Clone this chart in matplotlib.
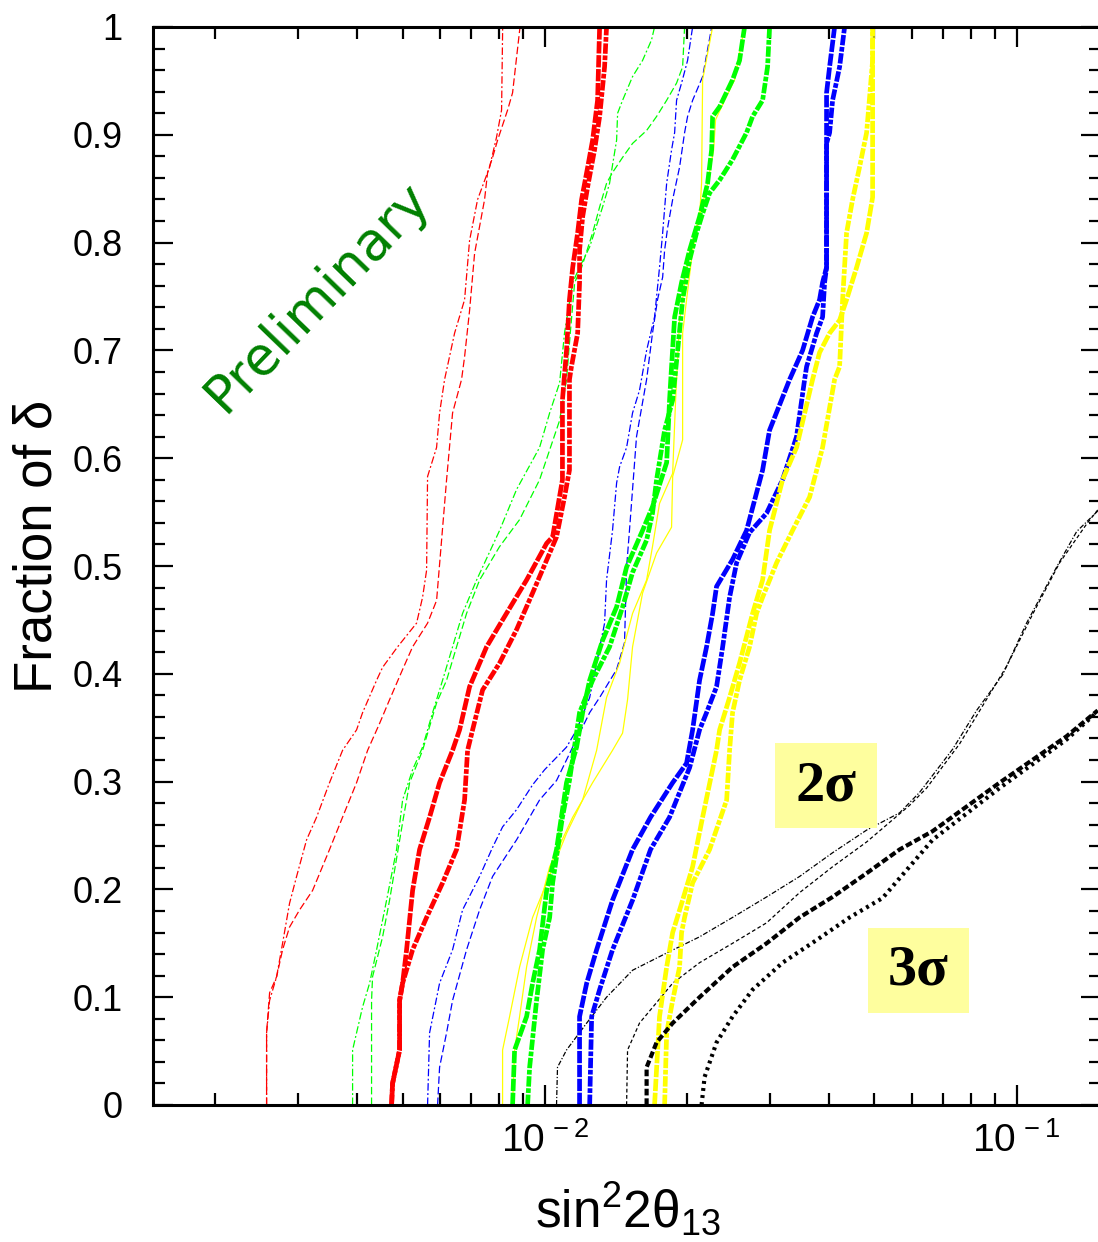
import matplotlib
matplotlib.use("Agg")
import numpy as np
import matplotlib.pyplot as plt
from matplotlib.patches import Rectangle
from matplotlib.ticker import FixedLocator, MultipleLocator

plt.rcParams['font.family'] = ['Liberation Sans', 'DejaVu Sans']
plt.rcParams['mathtext.fontset'] = 'custom'
plt.rcParams['mathtext.rm'] = 'Liberation Sans'
plt.rcParams['mathtext.it'] = 'Liberation Sans'

# (fraction of delta, sin^2 2theta13 in units of 1e-3) along each curve
red_thin_a = [(0.000, 2.576), (0.067, 2.576), (0.097, 2.614), (0.119, 2.705), (0.150, 2.785), (0.187, 2.881),
              (0.212, 2.982), (0.246, 3.131), (0.267, 3.288), (0.299, 3.502), (0.329, 3.732), (0.348, 3.996),
              (0.364, 4.115), (0.394, 4.406), (0.406, 4.537), (0.425, 4.881), (0.447, 5.355), (0.471, 5.514),
              (0.496, 5.623), (0.583, 5.650), (0.610, 5.904), (0.642, 5.991), (0.673, 6.139), (0.716, 6.446),
              (0.747, 6.768), (0.802, 6.935), (0.840, 7.212), (0.870, 7.646), (0.898, 7.912), (0.923, 8.107),
              (1.000, 8.150)]
red_thin_b = [(0.000, 2.576), (0.067, 2.576), (0.104, 2.614), (0.119, 2.705), (0.144, 2.785), (0.165, 2.881),
              (0.181, 3.026), (0.199, 3.224), (0.237, 3.502), (0.267, 3.732), (0.299, 3.996), (0.329, 4.217),
              (0.354, 4.471), (0.376, 4.694), (0.404, 5.002), (0.425, 5.252), (0.447, 5.650), (0.468, 5.904),
              (0.580, 6.199), (0.642, 6.383), (0.673, 6.669), (0.694, 6.768), (0.737, 6.935), (0.790, 7.107),
              (0.840, 7.462), (0.865, 7.572), (0.879, 7.759), (0.895, 7.951), (0.923, 8.349), (0.939, 8.554),
              (1.000, 8.870)]
red_thick_a = [(0.000, 4.740), (0.020, 4.763), (0.051, 4.929), (0.097, 4.929), (0.113, 5.002), (0.144, 5.100),
               (0.199, 5.252), (0.237, 5.434), (0.267, 5.706), (0.299, 5.991), (0.329, 6.383), (0.348, 6.605),
               (0.388, 6.935), (0.425, 7.535), (0.450, 8.147), (0.487, 9.159), (0.521, 10.10), (0.527, 10.40),
               (0.580, 10.91), (0.654, 10.91), (0.700, 11.13), (0.747, 11.29), (0.777, 11.47), (0.809, 11.75),
               (0.840, 11.98), (0.870, 12.34), (0.895, 12.64), (0.932, 12.95), (1.000, 13.08)]
red_thick_b = [(0.000, 4.740), (0.020, 4.763), (0.051, 4.929), (0.097, 4.929), (0.113, 5.002), (0.144, 5.252),
               (0.174, 5.623), (0.206, 6.079), (0.237, 6.509), (0.283, 6.768), (0.329, 6.868), (0.348, 7.038),
               (0.385, 7.390), (0.410, 8.029), (0.441, 8.723), (0.475, 9.432), (0.512, 10.25), (0.527, 10.60),
               (0.564, 11.02), (0.589, 11.29), (0.673, 11.29), (0.685, 11.40), (0.716, 11.75), (0.763, 11.86),
               (0.793, 11.86), (0.824, 12.04), (0.852, 12.34), (0.886, 12.76), (0.917, 13.08), (0.963, 13.40),
               (1.000, 13.53)]
green_thin_a = [(0.000, 3.919), (0.051, 3.919), (0.067, 3.996), (0.091, 4.115), (0.113, 4.258), (0.144, 4.406),
                (0.190, 4.626), (0.237, 4.857), (0.283, 5.002), (0.311, 5.252), (0.332, 5.514), (0.364, 5.790),
                (0.394, 6.079), (0.425, 6.383), (0.456, 6.702), (0.487, 7.177), (0.533, 8.029), (0.571, 8.723),
                (0.610, 9.759), (0.642, 10.25), (0.670, 10.76), (0.716, 11.02), (0.763, 11.47), (0.777, 11.86),
                (0.796, 12.46), (0.833, 13.27), (0.855, 13.73), (0.895, 14.21), (0.920, 14.28), (0.932, 14.63),
                (0.954, 15.36), (0.969, 16.13), (0.988, 16.85), (1.000, 17.10)]
green_thin_b = [(0.000, 4.299), (0.097, 4.299), (0.119, 4.320), (0.156, 4.537), (0.190, 4.694), (0.262, 5.002),
                (0.299, 5.176), (0.329, 5.514), (0.373, 5.904), (0.394, 6.199), (0.425, 6.509), (0.456, 6.834),
                (0.487, 7.283), (0.518, 8.029), (0.543, 8.851), (0.580, 9.759), (0.635, 10.76), (0.673, 11.13),
                (0.719, 11.35), (0.763, 11.58), (0.777, 11.98), (0.809, 12.64), (0.833, 13.08), (0.855, 13.53),
                (0.865, 13.93), (0.879, 14.63), (0.892, 15.36), (0.904, 16.45), (0.917, 17.27), (0.932, 18.14),
                (0.948, 19.04), (0.963, 19.61), (1.000, 19.80)]
green_thick_a = [(0.000, 8.554), (0.051, 8.638), (0.082, 9.159), (0.113, 9.432), (0.144, 9.759), (0.199, 10.10),
                 (0.237, 10.60), (0.299, 11.13), (0.332, 11.69), (0.364, 12.04), (0.394, 12.46), (0.431, 13.27),
                 (0.462, 14.21), (0.499, 14.92), (0.533, 16.13), (0.555, 16.93), (0.596, 18.14), (0.654, 18.40),
                 (0.685, 18.58), (0.731, 18.86), (0.763, 19.51), (0.793, 20.29), (0.824, 21.30), (0.855, 22.15),
                 (0.886, 22.59), (0.917, 22.70), (0.926, 23.49), (0.951, 25.02), (0.969, 25.89), (1.000, 26.53)]
green_thick_b = [(0.000, 9.205), (0.035, 9.296), (0.097, 9.617), (0.144, 9.903), (0.174, 10.25), (0.206, 10.40),
                 (0.267, 10.91), (0.301, 11.29), (0.364, 11.86), (0.394, 12.64), (0.425, 13.73), (0.462, 14.63),
                 (0.494, 15.36), (0.524, 16.45), (0.549, 16.93), (0.580, 17.27), (0.626, 17.96), (0.654, 18.68),
                 (0.700, 19.14), (0.747, 19.61), (0.784, 20.29), (0.809, 20.99), (0.827, 21.62), (0.846, 22.37),
                 (0.858, 23.49), (0.877, 25.02), (0.902, 26.79), (0.917, 27.59), (0.932, 28.97), (0.963, 29.68),
                 (1.000, 29.97)]
blue_thin_a = [(0.000, 5.650), (0.067, 5.706), (0.113, 5.991), (0.144, 6.383), (0.181, 6.702), (0.212, 7.283),
               (0.239, 7.759), (0.258, 8.147), (0.274, 8.723), (0.297, 9.432), (0.311, 10.00), (0.332, 11.13),
               (0.348, 11.69), (0.378, 12.46), (0.410, 12.89), (0.447, 13.40), (0.487, 13.53), (0.533, 13.93),
               (0.577, 14.21), (0.592, 14.42), (0.610, 14.92), (0.642, 15.36), (0.663, 15.89), (0.700, 16.45),
               (0.731, 17.10), (0.777, 17.52), (0.809, 17.79), (0.855, 18.14), (0.886, 18.58), (0.902, 18.86),
               (0.932, 19.04), (0.948, 19.51), (0.969, 20.09), (1.000, 20.59)]
blue_thin_b = [(0.000, 5.933), (0.035, 5.991), (0.067, 6.199), (0.097, 6.383), (0.144, 6.834), (0.181, 7.283),
               (0.212, 7.759), (0.246, 8.723), (0.283, 9.759), (0.301, 10.60), (0.332, 11.47), (0.364, 12.46),
               (0.378, 13.08), (0.404, 14.21), (0.429, 14.77), (0.499, 14.92), (0.533, 15.13), (0.620, 15.66),
               (0.673, 16.45), (0.716, 16.93), (0.747, 17.35), (0.768, 17.79), (0.793, 17.96), (0.814, 18.23),
               (0.840, 18.68), (0.870, 19.32), (0.902, 19.80), (0.917, 20.09), (0.932, 20.59), (0.954, 21.62),
               (1.000, 22.60)]
yellow_thin_a = [(0.000, 8.554), (0.051, 8.638), (0.082, 8.851), (0.128, 9.159), (0.174, 9.617), (0.221, 10.25),
                 (0.267, 11.47), (0.299, 12.64), (0.329, 13.93), (0.345, 14.63), (0.376, 14.99), (0.425, 15.36),
                 (0.475, 16.13), (0.512, 17.27), (0.536, 18.58), (0.583, 18.68), (0.617, 19.61), (0.716, 19.61),
                 (0.747, 19.99), (0.793, 20.59), (0.824, 21.30), (0.855, 21.51), (0.951, 21.62), (1.000, 22.70)]
yellow_thin_b = [(0.000, 8.147), (0.051, 8.147), (0.082, 8.430), (0.128, 8.851), (0.174, 9.432), (0.206, 10.10),
                 (0.252, 11.13), (0.283, 12.04), (0.329, 12.89), (0.378, 13.53), (0.410, 14.42), (0.456, 15.36),
                 (0.487, 16.45), (0.518, 16.93), (0.558, 17.52), (0.586, 18.68), (0.654, 18.95), (0.728, 19.32),
                 (0.793, 20.29), (0.824, 21.30), (0.855, 22.15), (0.886, 22.81), (0.914, 23.03), (0.932, 24.07),
                 (0.951, 25.27), (1.000, 26.53)]
blue_thick_a = [(0.000, 11.86), (0.082, 11.86), (0.113, 12.28), (0.144, 12.89), (0.190, 13.93), (0.237, 15.36),
                (0.267, 16.77), (0.299, 18.68), (0.317, 19.99), (0.348, 20.59), (0.394, 21.30), (0.425, 22.04),
                (0.456, 22.70), (0.481, 23.14), (0.506, 25.02), (0.533, 26.79), (0.589, 28.97), (0.626, 29.97),
                (0.673, 33.05), (0.700, 35.21), (0.731, 36.97), (0.747, 38.25), (0.763, 38.82), (0.777, 39.58),
                (0.939, 39.58), (0.963, 40.17), (1.000, 41.16)]
blue_thick_b = [(0.000, 12.46), (0.082, 12.58), (0.107, 13.08), (0.144, 13.93), (0.190, 15.36), (0.237, 16.77),
                (0.267, 18.40), (0.313, 20.29), (0.348, 21.30), (0.364, 22.04), (0.388, 23.14), (0.425, 23.84),
                (0.471, 24.66), (0.503, 25.52), (0.531, 27.18), (0.549, 29.54), (0.580, 31.93), (0.620, 34.19),
                (0.673, 35.56), (0.685, 35.91), (0.716, 37.70), (0.731, 38.82), (0.763, 39.20), (0.777, 39.58),
                (0.892, 39.58), (0.902, 40.17), (0.932, 40.76), (0.963, 42.18), (1.000, 43.22)]
yellow_thick_a = [(0.000, 17.10), (0.082, 17.52), (0.128, 18.14), (0.160, 18.68), (0.190, 19.61), (0.221, 20.59),
                  (0.267, 21.62), (0.329, 23.14), (0.348, 23.49), (0.378, 24.66), (0.410, 25.89), (0.456, 27.59),
                  (0.487, 28.97), (0.533, 29.97), (0.580, 31.93), (0.610, 34.19), (0.673, 36.97), (0.698, 38.25),
                  (0.716, 40.17), (0.728, 42.18), (0.747, 43.64), (0.777, 45.83), (0.809, 48.12), (0.842, 49.55),
                  (1.000, 49.55)]
yellow_thick_b = [(0.000, 17.96), (0.067, 18.14), (0.097, 18.68), (0.128, 19.32), (0.160, 19.51), (0.174, 19.80),
                  (0.206, 20.59), (0.237, 22.37), (0.283, 24.31), (0.329, 24.66), (0.364, 25.02), (0.394, 25.89),
                  (0.425, 27.18), (0.456, 28.13), (0.471, 28.97), (0.503, 31.02), (0.533, 33.53), (0.564, 36.44),
                  (0.610, 38.82), (0.673, 41.16), (0.685, 42.18), (0.747, 42.80), (0.809, 43.64), (0.840, 44.94),
                  (0.870, 46.49), (0.902, 48.12), (0.935, 48.83), (0.969, 49.55), (1.000, 49.55)]
black_thin_a = [(0.000, 10.60), (0.035, 10.65), (0.051, 11.13), (0.076, 12.28), (0.100, 13.53), (0.125, 15.36),
                (0.141, 18.14), (0.156, 21.30), (0.174, 25.02), (0.193, 29.54), (0.212, 34.70), (0.234, 40.76),
                (0.255, 48.12), (0.271, 56.52), (0.290, 62.31), (0.330, 73.20), (0.366, 82.30), (0.399, 93.43),
                (0.447, 105.0), (0.499, 121.6), (0.532, 134.1), (0.551, 148.6)]
black_thin_b = [(0.000, 14.92), (0.051, 14.99), (0.076, 15.89), (0.095, 17.27), (0.113, 18.68), (0.132, 21.30),
                (0.150, 25.02), (0.169, 29.54), (0.197, 34.70), (0.221, 40.76), (0.244, 48.12), (0.278, 59.35),
                (0.294, 64.48), (0.335, 75.74), (0.407, 95.27), (0.455, 108.1), (0.503, 123.4), (0.539, 140.8),
                (0.552, 148.6)]
black_thick_a = [(0.000, 16.45), (0.035, 16.45), (0.058, 17.27), (0.076, 18.68), (0.100, 21.30), (0.128, 25.02),
                 (0.150, 29.54), (0.174, 34.70), (0.193, 40.76), (0.215, 48.12), (0.237, 56.52), (0.254, 66.40),
                 (0.299, 92.07), (0.342, 127.6), (0.366, 148.6)]
black_thick_b = [(0.000, 21.51), (0.026, 21.83), (0.058, 23.14), (0.082, 25.02), (0.107, 27.59), (0.132, 31.93),
                 (0.153, 37.70), (0.174, 44.29), (0.192, 52.02), (0.246, 66.40), (0.294, 92.07), (0.339, 127.6),
                 (0.365, 148.6)]

y_ticks = [0, 0.1, 0.2, 0.3, 0.4, 0.5, 0.6, 0.7, 0.8, 0.9, 1.0]
y_tick_labels = ['0', '0.1', '0.2', '0.3', '0.4', '0.5', '0.6', '0.7', '0.8', '0.9', '1']
x_ticks = [1e-2, 1e-1]
x_tick_labels = [r'$\mathregular{10^{\,-2}}$', r'$\mathregular{10^{\,-1}}$']

# line styles
thin_dash = (0, (6, 2.5))
thin_dashdot = (0, (6, 2, 1.5, 2))
thick_dash = (0, (2.6, 0.35))
thick_dashdot = (0, (2.2, 0.35, 1.0, 0.35))
THIN, THICK = 0.9, 3.4

curves = [
    (red_thin_a, 'red', THIN, thin_dashdot), (red_thin_b, 'red', THIN, thin_dash),
    (green_thin_a, '#00ff00', THIN, thin_dashdot), (green_thin_b, '#00ff00', THIN, thin_dash),
    (blue_thin_a, 'blue', THIN, thin_dashdot), (blue_thin_b, 'blue', THIN, thin_dash),
    (yellow_thin_a, 'yellow', THIN, '-'), (yellow_thin_b, 'yellow', THIN, '-'),
    (black_thin_a, 'black', THIN, (0, (4, 1.5, 1, 1.5))), (black_thin_b, 'black', THIN, (0, (3, 2))),
    (red_thick_a, 'red', THICK, thick_dash), (red_thick_b, 'red', THICK, thick_dashdot),
    (green_thick_a, '#00ff00', THICK, thick_dash), (green_thick_b, '#00ff00', THICK, thick_dashdot),
    (blue_thick_a, 'blue', THICK, thick_dash), (blue_thick_b, 'blue', THICK, thick_dashdot),
    (yellow_thick_a, 'yellow', THICK, thick_dash), (yellow_thick_b, 'yellow', THICK, thick_dashdot),
    (black_thick_a, 'black', 3.0, (0, (1.6, 0.7))), (black_thick_b, 'black', 3.0, (0, (0.7, 1.0))),
]

fig = plt.figure(figsize=(10.98, 12.42), dpi=100)
ax = fig.add_axes([153 / 1098, 137 / 1242, 948 / 1098, 1078 / 1242])

for pts, color, lw, ls in curves:
    arr = np.array(pts)
    ax.plot(arr[:, 1] * 1e-3, arr[:, 0], color=color, lw=lw, linestyle=ls,
            dash_capstyle='butt', solid_capstyle='butt')

ax.set_xscale('log')
ax.set_xlim(0.00148, 0.151)
ax.set_ylim(0, 1)

ax.xaxis.set_minor_locator(FixedLocator([m * 1e-3 for m in range(2, 10)] + [m * 1e-2 for m in range(2, 10)]))
ax.set_xticks(x_ticks)
ax.set_xticklabels(x_tick_labels)
ax.xaxis.set_minor_formatter(plt.NullFormatter())
ax.set_yticks(y_ticks)
ax.set_yticklabels(y_tick_labels)
ax.yaxis.set_minor_locator(MultipleLocator(0.02))

ax.tick_params(which='both', direction='in', top=True, right=True, width=1.6, colors='black')
ax.tick_params(which='major', length=14.5)
ax.tick_params(which='minor', length=8.5)
ax.tick_params(axis='y', which='major', labelsize=26, pad=22)
ax.tick_params(axis='x', which='major', labelsize=28, pad=12)
for s in ax.spines.values():
    s.set_linewidth(2.2)

fig.text(38 / 1098, 1 - 546 / 1242, 'Fraction of δ', rotation=90, ha='center', va='center', fontsize=38)
fig.text(628 / 1098, 1 - 1228 / 1242, r'$\mathregular{sin^{2}2\theta_{13}}$', ha='center', va='baseline',
         fontsize=37)

ax.text(0.00331, 0.75, 'Preliminary', color='#008000', fontsize=38, rotation=46,
        ha='center', va='center', rotation_mode='anchor', family=['DejaVu Sans'])

# significance boxes
box_color = '#fefe9e'
ax.add_patch(Rectangle((0.656, 0.257), 0.108, 0.079, transform=ax.transAxes,
                       facecolor=box_color, edgecolor='none', zorder=3))
ax.add_patch(Rectangle((0.7545, 0.0853), 0.1065, 0.079, transform=ax.transAxes,
                       facecolor=box_color, edgecolor='none', zorder=3))
ax.text(0.710, 0.295, '2σ', transform=ax.transAxes, ha='center', va='center', fontsize=42,
        fontweight='bold', family=['Liberation Serif', 'DejaVu Serif'], zorder=4)
ax.text(0.807, 0.125, '3σ', transform=ax.transAxes, ha='center', va='center', fontsize=42,
        fontweight='bold', family=['Liberation Serif', 'DejaVu Serif'], zorder=4)

fig.savefig('out.png', dpi=100)
